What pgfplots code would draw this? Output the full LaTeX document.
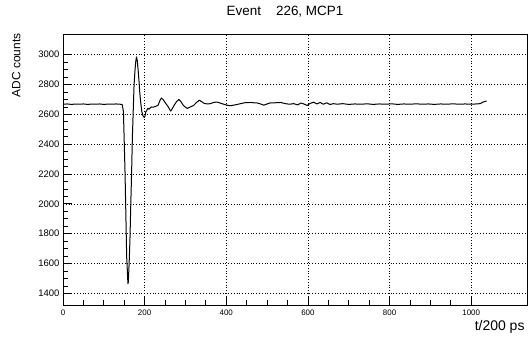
\documentclass[border=0pt]{standalone}
\usepackage{fontspec}
\setmainfont{Liberation Sans}
\usepackage{pgfplots}
\pgfplotsset{compat=1.18}
\usepackage{pgfplotstable}
\pgfplotstableread{
t v
0 2668
10 2670
20 2667
30 2669
40 2668
50 2670
60 2667
70 2669
80 2668
90 2670
100 2667
110 2669
120 2668
130 2670
140 2668
145 2666
148 2620
150 2420
152 2205
154 1930
156 1645
158 1530
159 1466
160 1475
162 1600
164 1757
166 1990
168 2200
170 2450
172 2620
174 2790
176 2880
178 2950
180 2985
182 2960
184 2900
186 2830
188 2750
190 2690
193 2620
196 2590
199 2580
201 2590
203 2620
205 2625
208 2640
211 2635
214 2645
217 2650
221 2648
225 2652
229 2656
233 2662
237 2690
241 2710
245 2700
250 2680
254 2665
258 2650
261 2635
264 2622
268 2640
272 2660
278 2685
284 2700
289 2685
295 2660
300 2648
305 2640
312 2650
320 2660
327 2680
334 2695
340 2685
345 2675
353 2670
361 2672
369 2680
377 2683
385 2676
394 2668
402 2662
410 2658
418 2662
426 2666
435 2672
445 2678
459 2680
467 2678
475 2677
484 2670
492 2662
500 2670
508 2677
520 2678
533 2680
545 2672
555 2668
565 2672
575 2664
583 2676
590 2670
598 2660
606 2674
614 2682
622 2670
630 2680
638 2668
646 2678
654 2666
662 2672
672 2668
685 2672
700 2667
715 2670
730 2668
745 2671
760 2667
775 2670
790 2668
805 2671
820 2667
835 2670
850 2668
865 2671
880 2668
895 2670
910 2667
925 2670
940 2668
955 2671
970 2668
985 2670
1000 2668
1012 2670
1022 2672
1030 2684
1038 2690
}\wave
\begin{document}
\begin{tikzpicture}[x=1bp,y=1bp]
\path[use as bounding box] (0,0) rectangle (529,342);
\begin{axis}[
  at={(63bp,37bp)}, anchor=south west,
  scale only axis, width=464.5bp, height=270.7bp,
  xmin=0, xmax=1138, ymin=1322, ymax=3137,
  xtick={0,200,...,1000}, ytick={1400,1600,...,3000},
  minor x tick num=3, minor y tick num=3,
  tick pos=left, tick align=inside,
  major tick length=9bp, minor tick length=5bp,
  every tick/.style={black, line width=0.8bp},
  axis line style={line width=0.9bp},
  grid=major,
  major grid style={black, line width=0.6bp, dash pattern=on 0.8bp off 2bp},
  /pgf/number format/assume math mode=true,
  /pgf/number format/1000 sep={},
  x tick label style={font=\fontsize{8}{9}\selectfont, yshift=-1bp},
  y tick label style={font=\fontsize{9.5}{11}\selectfont},
  scaled ticks=false,
  clip=true,
]
\addplot[black, line width=1bp, line join=round] table[x=t, y=v] {\wave};
\end{axis}
\node[font=\fontsize{13.5}{15}\selectfont] at (285,330) {Event\hspace{15bp}226, MCP1};
\node[font=\fontsize{12}{14}\selectfont, rotate=90, anchor=south east] at (24,312) {ADC counts};
\node[font=\fontsize{14}{16}\selectfont, anchor=east] at (528,15) {t/200 ps};
\end{tikzpicture}
\end{document}
